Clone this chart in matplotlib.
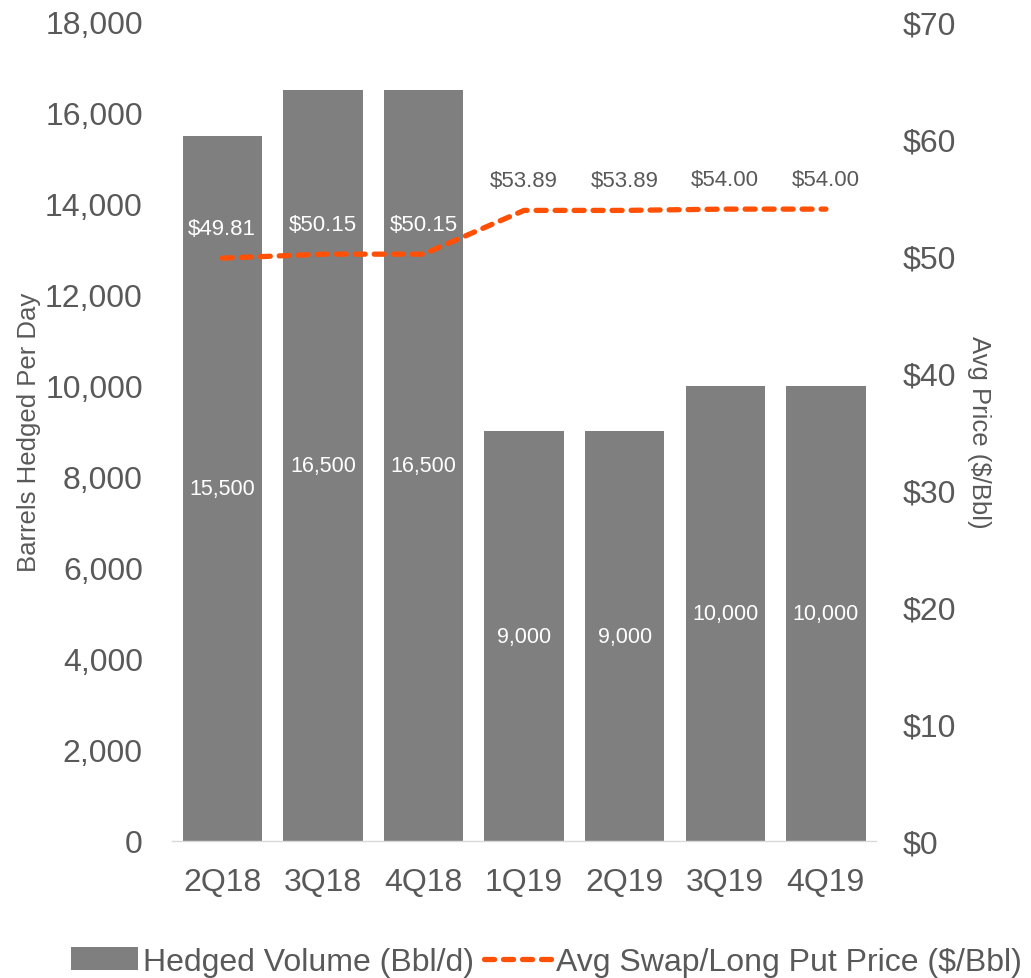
import matplotlib
matplotlib.use("Agg")
import matplotlib.pyplot as plt
from matplotlib.ticker import FuncFormatter

plt.rcParams['font.family'] = ['Liberation Sans', 'DejaVu Sans']

# data
quarters = ["2Q18", "3Q18", "4Q18", "1Q19", "2Q19", "3Q19", "4Q19"]
volumes = [15500, 16500, 16500, 9000, 9000, 10000, 10000]
prices = [49.81, 50.15, 50.15, 53.89, 53.89, 54.00, 54.00]

text_grey = "#595959"
bar_grey = "#7F7F7F"
orange = "#FF5005"

fig = plt.figure(figsize=(10.31, 9.79), dpi=100)
ax = fig.add_axes([0.1668, 0.140, 0.683, 0.8366])
ax2 = ax.twinx()

x = list(range(len(quarters)))
bars = ax.bar(x, volumes, width=0.79, color=bar_grey, label="Hedged Volume (Bbl/d)", zorder=2)
line, = ax2.plot(x, prices, color=orange, lw=3.8, dashes=(1.9, 1.7),
                 dash_capstyle='round', label="Avg Swap/Long Put Price ($/Bbl)", zorder=3)

# volume labels in middle of bars
for xi, v in zip(x, volumes):
    ax.text(xi, v / 2, f"{v:,}", ha='center', va='center', color='white', fontsize=15.5)

# price labels above the line
for xi, p in zip(x, prices):
    col = 'white' if p < 52 else text_grey
    ax2.annotate(f"${p:.2f}", (xi, p), xytext=(0, 21.5), textcoords='offset points',
                 ha='center', va='center', color=col, fontsize=16)

ax.set_xlim(-0.5, len(quarters) - 0.5)
ax.set_ylim(0, 18000)
ax.set_yticks(range(0, 18001, 2000))
ax.yaxis.set_major_formatter(FuncFormatter(lambda v, _: f"{int(v):,}"))
ax2.set_ylim(0, 70)
ax2.set_yticks(range(0, 71, 10))
ax2.yaxis.set_major_formatter(FuncFormatter(lambda v, _: f"${int(v)}"))

ax.set_xticks(x)
ax.set_xticklabels(quarters)

for a in (ax, ax2):
    for s in a.spines.values():
        s.set_visible(False)
    a.tick_params(length=0, labelsize=23, labelcolor=text_grey)
ax.spines['bottom'].set_visible(True)
ax.spines['bottom'].set_color("#D9D9D9")
ax.spines['bottom'].set_linewidth(1)
ax.tick_params(axis='x', pad=19)
ax.tick_params(axis='y', pad=21)
ax2.tick_params(axis='y', pad=19)

ax.set_ylabel("Barrels Hedged Per Day", fontsize=18.5, color=text_grey, labelpad=3)
ax2.set_ylabel("Avg Price ($/Bbl)", fontsize=18.5, color=text_grey, rotation=270, labelpad=25)

fig.legend(handles=[bars, line], loc='center', bbox_to_anchor=(0.53, 0.0165), ncol=2,
           frameon=False, fontsize=23, labelcolor=text_grey, handlelength=2.1,
           handletextpad=0.15, columnspacing=0.3, borderaxespad=0)

fig.savefig("out.png", dpi=100)
